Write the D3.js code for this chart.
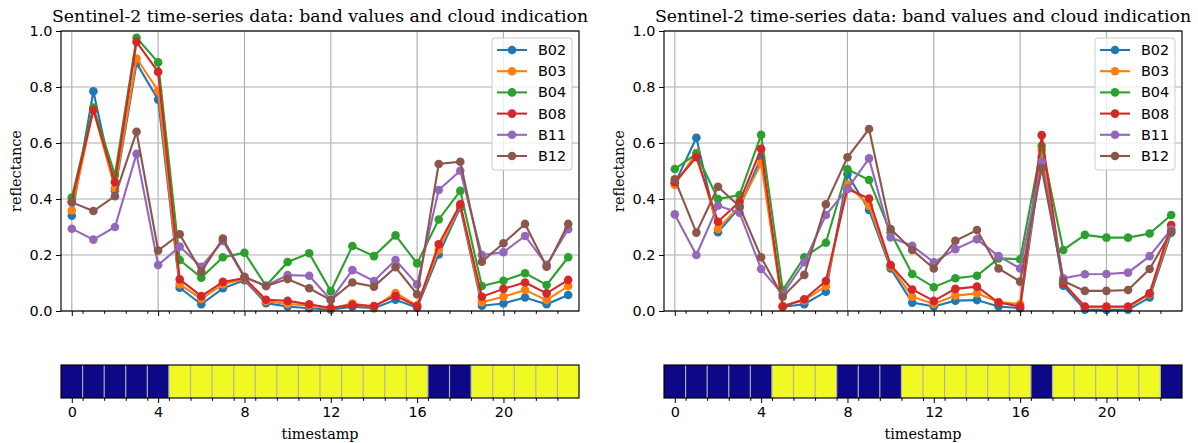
<!DOCTYPE html>
<html>
<head>
<meta charset="utf-8">
<script src="https://cdn.jsdelivr.net/npm/d3@7"></script>
<style>
  body { margin: 0; background: #fff; }
  svg { display: block; }
  .tick text { font-family: "DejaVu Sans", sans-serif; font-size: 14.4px; fill: #000; }
</style>
</head>
<body>
<div id="chart"></div>
<script>
// timestamps 0..23
const timestamps = d3.range(24);
const bandNames = ["B02", "B03", "B04", "B08", "B11", "B12"];
const bandColors = ["#1f77b4", "#ff7f0e", "#2ca02c", "#d62728", "#9467bd", "#8c564b"];
const yTicks = [0, 0.2, 0.4, 0.6, 0.8, 1.0];
const xTicks = [0, 4, 8, 12, 16, 20];

// left panel
const b02A = [0.34,0.785,0.43,0.885,0.755,0.083,0.024,0.081,0.11,0.028,0.016,0.01,0.005,0.015,0.01,0.04,0.012,0.202,0.37,0.019,0.027,0.048,0.024,0.057];
const b03A = [0.359,0.72,0.438,0.902,0.787,0.095,0.043,0.095,0.115,0.035,0.025,0.02,0.008,0.027,0.014,0.064,0.02,0.218,0.378,0.031,0.051,0.075,0.039,0.089];
const b04A = [0.405,0.727,0.486,0.976,0.888,0.182,0.119,0.192,0.208,0.09,0.175,0.206,0.071,0.232,0.196,0.27,0.17,0.327,0.429,0.089,0.108,0.135,0.093,0.192];
const b08A = [0.39,0.718,0.46,0.961,0.854,0.113,0.053,0.104,0.117,0.04,0.036,0.024,0.011,0.022,0.018,0.054,0.017,0.238,0.381,0.051,0.079,0.102,0.063,0.111];
const b11A = [0.294,0.255,0.30,0.561,0.164,0.23,0.158,0.25,0.12,0.09,0.128,0.126,0.04,0.146,0.107,0.182,0.095,0.432,0.501,0.2,0.21,0.268,0.165,0.292];
const b12A = [0.388,0.357,0.41,0.64,0.216,0.274,0.14,0.259,0.122,0.089,0.114,0.081,0.039,0.102,0.087,0.156,0.06,0.525,0.533,0.176,0.242,0.311,0.158,0.311];
const cloudyA = [1,1,1,1,1,0,0,0,0,0,0,0,0,0,0,0,0,1,1,0,0,0,0,0];

// right panel
const b02B = [0.455,0.619,0.281,0.37,0.55,0.015,0.024,0.069,0.488,0.361,0.152,0.03,0.016,0.037,0.039,0.016,0.01,0.55,0.09,0.005,0.004,0.005,0.048,0.28];
const b03B = [0.45,0.565,0.293,0.375,0.527,0.019,0.038,0.089,0.452,0.376,0.16,0.051,0.025,0.055,0.063,0.032,0.025,0.575,0.1,0.014,0.014,0.014,0.06,0.29];
const b04B = [0.507,0.561,0.4,0.414,0.629,0.075,0.192,0.244,0.506,0.468,0.28,0.132,0.085,0.117,0.126,0.188,0.185,0.59,0.218,0.272,0.262,0.262,0.277,0.343];
const b08B = [0.46,0.549,0.319,0.39,0.579,0.016,0.042,0.107,0.436,0.402,0.164,0.077,0.036,0.079,0.087,0.03,0.016,0.628,0.099,0.016,0.016,0.016,0.063,0.307];
const b11B = [0.345,0.2,0.376,0.351,0.15,0.06,0.174,0.343,0.436,0.545,0.263,0.233,0.174,0.221,0.256,0.196,0.152,0.533,0.117,0.131,0.132,0.137,0.196,0.292];
const b12B = [0.47,0.28,0.444,0.373,0.192,0.051,0.129,0.381,0.549,0.65,0.293,0.218,0.152,0.251,0.289,0.152,0.105,0.51,0.107,0.072,0.072,0.075,0.15,0.283];
const cloudyB = [1,1,1,1,1,0,0,0,1,1,1,0,0,0,0,0,0,1,0,0,0,0,0,1];

const width = 1198, height = 443;
const axW = 518, axTop = 31, axBottom = 311, barTop = 365, barBottom = 398;
const gridColor = "#b0b0b0";

const svg = d3.select("#chart").append("svg")
    .attr("width", width)
    .attr("height", height);

const cloudColor = d3.scaleOrdinal().domain([0, 1]).range(["#f0f921", "#0d0887"]);

function drawPanel(left, bands, cloudy) {
    const g = svg.append("g").attr("transform", `translate(${left},0)`);

    const x = d3.scaleLinear().domain([-0.5, 23.5]).range([0, axW]);
    const y = d3.scaleLinear().domain([0, 1]).range([axBottom, axTop]);
    const minor = d3.range(0.5, 23, 1);

    // grid
    g.append("g").selectAll("line").data(yTicks).join("line")
        .attr("x1", 0).attr("x2", axW)
        .attr("y1", d => y(d)).attr("y2", d => y(d))
        .attr("stroke", gridColor).attr("stroke-width", 1.15);
    g.append("g").selectAll("line").data(xTicks).join("line")
        .attr("x1", d => x(d)).attr("x2", d => x(d))
        .attr("y1", axTop).attr("y2", axBottom)
        .attr("stroke", gridColor).attr("stroke-width", 1.15);

    // series
    const line = d3.line().x((d, i) => x(timestamps[i])).y(d => y(d));
    bands.forEach((vals, k) => {
        const s = g.append("g");
        s.append("path").datum(vals)
            .attr("d", line)
            .attr("fill", "none")
            .attr("stroke", bandColors[k])
            .attr("stroke-width", 2.1);
        s.selectAll("circle").data(vals).join("circle")
            .attr("cx", (d, i) => x(timestamps[i]))
            .attr("cy", d => y(d))
            .attr("r", 4.3)
            .attr("fill", bandColors[k]);
    });

    // axes
    g.append("g")
        .call(d3.axisLeft(y).tickValues(yTicks).tickFormat(d3.format(".1f")).tickSize(5).tickPadding(3.5))
        .call(a => a.select(".domain").remove());
    g.append("g").attr("transform", `translate(0,${axBottom})`)
        .call(d3.axisBottom(x).tickValues(xTicks).tickFormat("").tickSize(5))
        .call(a => a.select(".domain").remove());
    g.append("g").attr("transform", `translate(0,${axBottom})`)
        .call(d3.axisBottom(x).tickValues(minor).tickFormat("").tickSize(2.9))
        .call(a => a.select(".domain").remove());
    g.append("rect")
        .attr("x", 0).attr("y", axTop).attr("width", axW).attr("height", axBottom - axTop)
        .attr("fill", "none").attr("stroke", "#000").attr("stroke-width", 1.15);

    // title and label
    g.append("text")
        .attr("x", axW / 2).attr("y", 22)
        .attr("text-anchor", "middle")
        .style("font-family", "'DejaVu Serif', serif").style("font-size", "17.3px")
        .text("Sentinel-2 time-series data: band values and cloud indication");
    g.append("text")
        .attr("transform", `translate(-40,${(axTop + axBottom) / 2}) rotate(-90)`)
        .attr("text-anchor", "middle")
        .style("font-family", "'DejaVu Serif', serif").style("font-size", "14.4px")
        .text("reflectance");

    // legend
    const lg = g.append("g").attr("transform", `translate(${axW - 87},38)`);
    lg.append("rect")
        .attr("width", 80).attr("height", 132).attr("rx", 3)
        .attr("fill", "#fff").attr("fill-opacity", 0.8)
        .attr("stroke", "#cccccc").attr("stroke-width", 1);
    bandNames.forEach((name, k) => {
        const ry = 12 + k * 21.2;
        lg.append("line").attr("x1", 5).attr("x2", 35).attr("y1", ry).attr("y2", ry)
            .attr("stroke", bandColors[k]).attr("stroke-width", 2.1);
        lg.append("circle").attr("cx", 20).attr("cy", ry).attr("r", 4.3).attr("fill", bandColors[k]);
        lg.append("text").attr("x", 46).attr("y", ry)
            .attr("dominant-baseline", "central")
            .style("font-family", "'DejaVu Sans', sans-serif").style("font-size", "14.4px")
            .text(name);
    });

    // cloud bar
    g.append("g").selectAll("rect").data(cloudy).join("rect")
        .attr("x", (d, i) => x(timestamps[i] - 0.5))
        .attr("width", x(1) - x(0))
        .attr("y", barTop).attr("height", barBottom - barTop)
        .attr("fill", d => cloudColor(d));
    g.append("g").selectAll("line").data(minor).join("line")
        .attr("x1", d => x(d)).attr("x2", d => x(d))
        .attr("y1", barTop).attr("y2", barBottom)
        .attr("stroke", gridColor).attr("stroke-width", 1.15);
    g.append("rect")
        .attr("x", 0).attr("y", barTop).attr("width", axW).attr("height", barBottom - barTop)
        .attr("fill", "none").attr("stroke", "#000").attr("stroke-width", 1.15);
    g.append("g").attr("transform", `translate(0,${barBottom})`)
        .call(d3.axisBottom(x).tickValues(xTicks).tickSize(5).tickPadding(3.5))
        .call(a => a.select(".domain").remove());
    g.append("g").attr("transform", `translate(0,${barBottom})`)
        .call(d3.axisBottom(x).tickValues(minor).tickFormat("").tickSize(2.9))
        .call(a => a.select(".domain").remove());
    g.append("text")
        .attr("x", axW / 2).attr("y", 439)
        .attr("text-anchor", "middle")
        .style("font-family", "'DejaVu Serif', serif").style("font-size", "14.4px")
        .text("timestamp");
}

drawPanel(61, [b02A, b03A, b04A, b08A, b11A, b12A], cloudyA);
drawPanel(664, [b02B, b03B, b04B, b08B, b11B, b12B], cloudyB);
</script>
</body>
</html>
